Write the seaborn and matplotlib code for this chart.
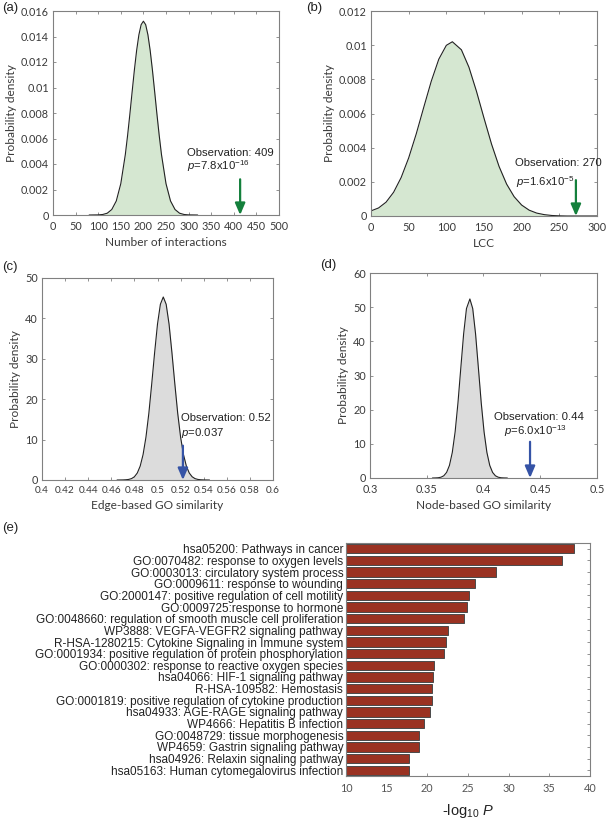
import matplotlib
matplotlib.use('Agg')
import matplotlib.pyplot as plt
import numpy as np
import pandas as pd
import seaborn as sns

# panel (a): null distribution of number of interactions
a_x = [80, 100, 110, 120, 130, 140, 150, 160, 165, 170, 175, 180, 185, 190, 195, 200,
       205, 210, 215, 220, 225, 230, 235, 240, 250, 260, 270, 280, 290, 300, 320]
a_y = [0, 0.00001, 0.00004, 0.00014, 0.00043, 0.0011, 0.00246, 0.00474, 0.00623, 0.00789, 0.00964,
       0.01136, 0.0129, 0.01413, 0.01493, 0.0152,
       0.01493, 0.01413, 0.0129, 0.01136, 0.00964, 0.00789, 0.00623, 0.00474, 0.00246, 0.0011,
       0.00043, 0.00014, 0.00004, 0.00001, 0]
a_obs, a_arrow_top = 414, 0.0028
a_yticks = [0, 0.002, 0.004, 0.006, 0.008, 0.01, 0.012, 0.014, 0.016]
a_ylabels = ['0', '0.002', '0.004', '0.006', '0.008', '0.01', '0.012', '0.014', '0.016']
a_xticks = [0, 50, 100, 150, 200, 250, 300, 350, 400, 450, 500]

# panel (b): LCC
b_x = [0, 10, 20, 30, 40, 50, 60, 70, 80, 90, 100, 108, 120, 130, 140, 150, 160, 170, 180, 190, 200,
       210, 220, 230, 240, 250, 260, 300]
b_y = [0.0003, 0.00047, 0.00081, 0.00139, 0.00225, 0.0034, 0.0048, 0.00636, 0.00789, 0.00918, 0.00999, 0.0102,
       0.00973, 0.00871, 0.0073, 0.00573, 0.00421, 0.0029, 0.00187, 0.00113, 0.00064,
       0.00034, 0.00017, 0.00008, 0.00003, 0.00001, 0, 0]
b_obs, b_arrow_top = 272, 0.0021
b_yticks = [0, 0.002, 0.004, 0.006, 0.008, 0.01, 0.012]
b_ylabels = ['0', '0.002', '0.004', '0.006', '0.008', '0.01', '0.012']
b_xticks = [0, 50, 100, 150, 200, 250, 300]

# panel (c): edge-based GO similarity
c_x = [0.465, 0.47, 0.4725, 0.475, 0.4775, 0.48, 0.4825, 0.485, 0.4875, 0.49, 0.4925, 0.495, 0.4975, 0.5,
       0.5025, 0.505, 0.5075, 0.51, 0.5125, 0.515, 0.5175, 0.52, 0.5225, 0.525, 0.5275, 0.53, 0.5325,
       0.535, 0.5375, 0.54, 0.545]
c_y = [0, 0.02, 0.06, 0.14, 0.34, 0.8, 1.73, 3.43, 6.28, 10.6, 16.5, 23.8, 31.5, 38.6,
       43.5, 45.3, 43.5, 38.6, 31.5, 23.8, 16.5, 10.6, 6.28, 3.43, 1.73, 0.8, 0.34,
       0.14, 0.06, 0.02, 0]
c_obs, c_arrow_top = 0.522, 8.5
c_xticks = [0.4, 0.42, 0.44, 0.46, 0.48, 0.5, 0.52, 0.54, 0.56, 0.58, 0.6]
c_xlabels = ['0.4', '0.42', '0.44', '0.46', '0.48', '0.5', '0.52', '0.54', '0.56', '0.58', '0.6']
c_yticks = [0, 10, 20, 30, 40, 50]

# panel (d): node-based GO similarity
d_x = [0.355, 0.3575, 0.36, 0.3625, 0.365, 0.3675, 0.37, 0.3725, 0.375, 0.3775, 0.38, 0.3825, 0.385, 0.388,
       0.3905, 0.393, 0.3955, 0.398, 0.4005, 0.403, 0.4055, 0.408, 0.4105, 0.413, 0.4155, 0.418, 0.421]
d_y = [0, 0.02, 0.07, 0.23, 0.65, 1.64, 3.69, 7.47, 13.5, 22.0, 32.2, 42.2, 49.6, 52.4,
       49.6, 42.2, 32.2, 22.0, 13.5, 7.47, 3.69, 1.64, 0.65, 0.23, 0.07, 0.02, 0]
d_obs, d_arrow_top = 0.441, 10.6
d_xticks = [0.3, 0.35, 0.4, 0.45, 0.5]
d_xlabels = ['0.3', '0.35', '0.4', '0.45', '0.5']
d_yticks = [0, 10, 20, 30, 40, 50, 60]

# panel (e): enrichment terms
terms = [
    'hsa05200: Pathways in cancer',
    'GO:0070482: response to oxygen levels',
    'GO:0003013: circulatory system process',
    'GO:0009611: response to wounding',
    'GO:2000147: positive regulation of cell motility',
    'GO:0009725:response to hormone',
    'GO:0048660: regulation of smooth muscle cell proliferation',
    'WP3888: VEGFA-VEGFR2 signaling pathway',
    'R-HSA-1280215: Cytokine Signaling in Immune system',
    'GO:0001934: positive regulation of protein phosphorylation',
    'GO:0000302: response to reactive oxygen species',
    'hsa04066: HIF-1 signaling pathway',
    'R-HSA-109582: Hemostasis',
    'GO:0001819: positive regulation of cytokine production',
    'hsa04933: AGE-RAGE signaling pathway',
    'WP4666: Hepatitis B infection',
    'GO:0048729: tissue morphogenesis',
    'WP4659: Gastrin signaling pathway',
    'hsa04926: Relaxin signaling pathway',
    'hsa05163: Human cytomegalovirus infection',
]
neglogp = [38.0, 36.6, 28.4, 25.9, 25.1, 24.85, 24.5, 22.6, 22.3, 22.1,
           20.8, 20.75, 20.55, 20.55, 20.3, 19.55, 19.0, 19.0, 17.8, 17.7]
e_xticks = [10, 15, 20, 25, 30, 35, 40]

sns.set_style('ticks')
plt.rcParams['font.family'] = ['Lato', 'DejaVu Sans']
plt.rcParams['mathtext.fontset'] = 'custom'
plt.rcParams['mathtext.rm'] = 'Liberation Sans'
plt.rcParams['mathtext.it'] = 'Liberation Sans:italic'

W, H = 606, 824
fig = plt.figure(figsize=(W / 100, H / 100), dpi=100)

spine_col = '#808080'
txt_col = '#3a3a3a'
green_fill = '#d5e7d1'
gray_fill = '#dcdcdc'
green_arrow = '#14803c'
blue_arrow = '#3553a6'


def px_axes(left, top, right, bottom):
    return fig.add_axes([left / W, 1 - bottom / H, (right - left) / W, (bottom - top) / H])


def style_box(ax, fs=7.8):
    for s in ax.spines.values():
        s.set_visible(True)
        s.set_color(spine_col)
        s.set_linewidth(0.8)
    ax.tick_params(direction='in', length=2.5, width=0.6, color=spine_col,
                   top=True, right=True, labelsize=fs, labelcolor=txt_col, pad=3)


def density_panel(ax, xs, ys, fill, xlim, ylim, xticks, xticklabels, yticks, yticklabels, xlabel, xfs=7.8):
    ax.fill_between(xs, ys, 0, color=fill, lw=0)
    sns.lineplot(x=xs, y=ys, ax=ax, color='#222222', lw=0.8)
    ax.set_xlim(*xlim)
    ax.set_ylim(*ylim)
    ax.set_xticks(xticks)
    ax.set_xticklabels(xticklabels)
    ax.set_yticks(yticks)
    ax.set_yticklabels(yticklabels)
    ax.set_xlabel(xlabel, fontsize=8.6, color=txt_col, labelpad=4)
    ax.set_ylabel('Probability density', fontsize=8.6, color=txt_col, labelpad=3)
    style_box(ax)
    ax.tick_params(axis='x', labelsize=xfs, pad=4)


def observation(ax, x, top, color, txt1, txt2, tx1, tx2, ty1, ty2):
    ax.annotate('', xy=(x, 0), xytext=(x, top),
                arrowprops=dict(arrowstyle='-|>,head_length=0.7,head_width=0.3',
                                color=color, lw=1.6, shrinkA=0, shrinkB=0))
    ax.text(tx1, ty1, txt1, fontsize=8.2, color='#222222', family=['Liberation Sans'], va='center')
    ax.text(tx2, ty2, txt2, fontsize=8.2, color='#222222', family=['Liberation Sans'], va='center')


# (a)
ax_a = px_axes(53, 11, 279, 215)
density_panel(ax_a, a_x, a_y, green_fill, (0, 500), (0, 0.016), a_xticks, [str(t) for t in a_xticks],
              a_yticks, a_ylabels, 'Number of interactions')
observation(ax_a, a_obs, a_arrow_top, green_arrow, 'Observation: 409', r'$p$=7.8x10$^{-16}$',
            296, 296, 0.0049, 0.0038)

# (b)
ax_b = px_axes(371, 11, 597, 216)
density_panel(ax_b, b_x, b_y, green_fill, (0, 300), (0, 0.012), b_xticks, [str(t) for t in b_xticks],
              b_yticks, b_ylabels, 'LCC')
observation(ax_b, b_obs, b_arrow_top, green_arrow, 'Observation: 270', r'$p$=1.6x10$^{-5}$',
            191, 192, 0.0031, 0.0020)

# (c)
ax_c = px_axes(42, 278, 273, 480)
density_panel(ax_c, c_x, c_y, gray_fill, (0.4, 0.6), (0, 50), c_xticks, c_xlabels,
              c_yticks, [str(t) for t in c_yticks], 'Edge-based GO similarity', xfs=7.2)
observation(ax_c, c_obs, c_arrow_top, blue_arrow, 'Observation: 0.52', r'$p$=0.037',
            0.5205, 0.5205, 15.4, 11.6)

# (d)
ax_d = px_axes(370, 273, 597, 478)
density_panel(ax_d, d_x, d_y, gray_fill, (0.3, 0.5), (0, 60), d_xticks, d_xlabels,
              d_yticks, [str(t) for t in d_yticks], 'Node-based GO similarity')
observation(ax_d, d_obs, d_arrow_top, blue_arrow, 'Observation: 0.44', r'$p$=6.0x10$^{-13}$',
            0.409, 0.418, 17.9, 13.7)

# (e)
ax_e = px_axes(346, 543, 590, 776)
df = pd.DataFrame({'term': terms, 'score': neglogp})
sns.barplot(data=df, x='score', y='term', orient='h', ax=ax_e, color='#9a3222',
            edgecolor='#4a4a4a', linewidth=0.7, width=0.8, saturation=1)
ax_e.set_xlim(10, 40)
ax_e.set_ylim(len(terms) - 0.5, -0.5)
ax_e.set_xticks(e_xticks)
ax_e.set_xlabel('-log$_{10}$ $P$', fontsize=10.5, color='#222222', family=['Liberation Sans'], labelpad=6)
ax_e.set_ylabel('')
style_box(ax_e, fs=7.8)
ax_e.tick_params(axis='x', pad=5)
ax_e.tick_params(axis='y', length=2.5, pad=2)
for lab in ax_e.get_yticklabels():
    lab.set_family(['Liberation Sans'])
    lab.set_fontsize(8.5)
    lab.set_color('#222222')
for lab in ax_e.get_xticklabels():
    lab.set_family(['Lato'])
    lab.set_color('#555555')

# panel letters
for letter, x, y in [('(a)', 2, 8), ('(b)', 306, 8), ('(c)', 2, 267), ('(d)', 320, 265), ('(e)', 2, 528)]:
    fig.text(x / W, 1 - y / H, letter, fontsize=9.5, color='#222222', va='center', ha='left',
             family=['Liberation Sans'])

fig.savefig('out.png', dpi=100)
